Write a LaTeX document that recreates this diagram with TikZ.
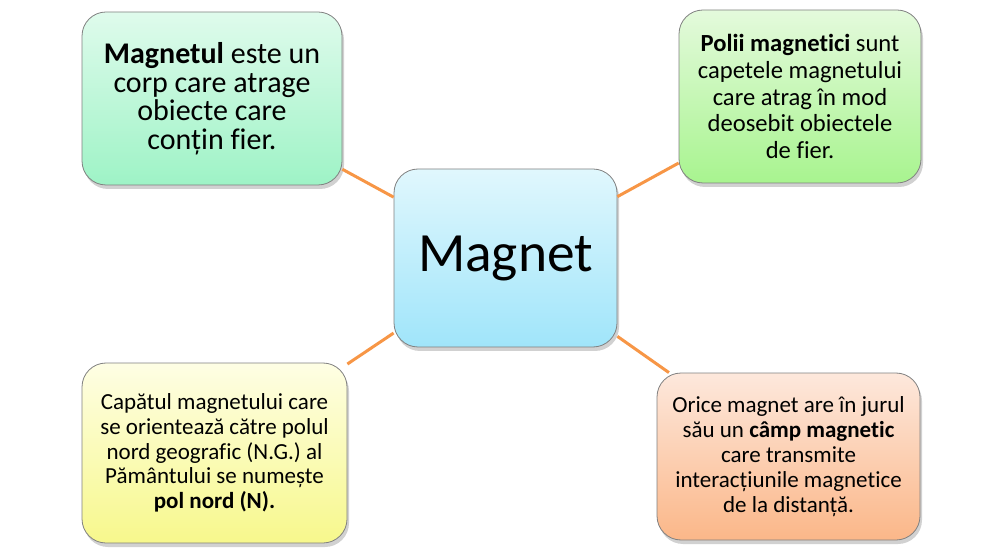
\documentclass[tikz,border=0pt]{standalone}
\usepackage{fontspec}
\setmainfont{Carlito}[Ligatures=CommonOff]
\usetikzlibrary{shadows}

\definecolor{linkorange}{RGB}{247,150,70}
\definecolor{boxline}{RGB}{128,128,128}

\begin{document}
\begin{tikzpicture}[x=0.5pt,y=-0.5pt,
    box/.style={draw=boxline,line width=0.4pt,rounded corners=12pt,inner sep=0pt,align=center,
      drop shadow={shadow xshift=1pt,shadow yshift=-2pt,opacity=0.3,fill=black!60}},
    link/.style={draw=linkorange,line width=1.5pt}]
  \useasboundingbox (0,0) rectangle (1000,555);

  \node[box,minimum width=111.5pt,minimum height=89pt,top color={rgb,255:red,224;green,247;blue,253},bottom color={rgb,255:red,160;green,229;blue,250},
    font={\fontsize{27.7pt}{30pt}\selectfont}] (magnet) at (505.5,258) {Magnet};

  \node[box,minimum width=130pt,minimum height=86.5pt,top color={rgb,255:red,223;green,251;blue,236},bottom color={rgb,255:red,158;green,243;blue,198},
    font={\fontsize{15pt}{14.25pt}\selectfont\lineskiplimit=-5pt}] (definition) at (212,98.5)
    {\textbf{Magnetul} este un\\corp care atrage\\obiecte care\\conțin fier.};
  \node[box,minimum width=121pt,minimum height=86.5pt,top color={rgb,255:red,228;green,250;blue,220},bottom color={rgb,255:red,168;green,244;blue,143},
    font={\fontsize{12.3pt}{13.4pt}\selectfont}] (poles) at (800,96.5)
    {\textbf{Polii magnetici} sunt\\capetele magnetului\\care atrag în mod\\deosebit obiectele\\de fier.};
  \node[box,minimum width=132.5pt,minimum height=90pt,top color={rgb,255:red,254;green,254;blue,228},bottom color={rgb,255:red,247;green,248;blue,140},
    font={\fontsize{11.5pt}{12.35pt}\selectfont}] (north pole) at (214.5,453)
    {Capătul magnetului care\\se orientează către polul\\nord geografic (N.G.) al\\Pământului se numește\\\textbf{pol nord (N).}};
  \node[box,minimum width=131.5pt,minimum height=83.5pt,top color={rgb,255:red,253;green,232;blue,220},bottom color={rgb,255:red,251;green,183;blue,137},
    font={\fontsize{11.5pt}{12.5pt}\selectfont}] (field) at (788.5,456.5)
    {Orice magnet are în jurul\\său un \textbf{câmp magnetic}\\care transmite\\interacțiunile magnetice\\de la distanță.};

  \draw[link] (magnet) -- (definition);
  \draw[link] (magnet) -- (poles);
  \draw[link] (magnet) -- (north pole);
  \draw[link] (magnet) -- (field);
\end{tikzpicture}
\end{document}
